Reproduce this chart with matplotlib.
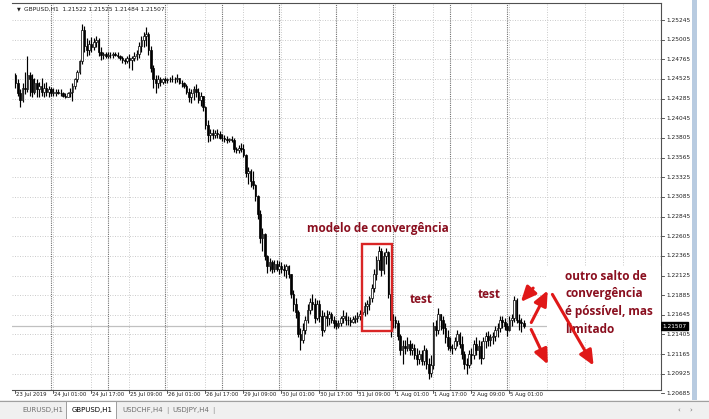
import numpy as np
import matplotlib
matplotlib.use("Agg")
import matplotlib.pyplot as plt
from matplotlib.patches import Rectangle, FancyArrowPatch
from matplotlib.transforms import blended_transform_factory

# --- DATA (GBPUSD H1) ---
opens = [
    1.2457, 1.2447, 1.2435, 1.2427, 1.2442, 1.2440, 1.2457, 1.2452, 1.2437, 1.2447,
    1.2440, 1.2444, 1.2437, 1.2442, 1.2437, 1.2440, 1.2436, 1.2436, 1.2437, 1.2436,
    1.2435, 1.2432, 1.2431, 1.2435, 1.2437, 1.2444, 1.2452, 1.2461, 1.2474, 1.2512,
    1.2493, 1.2488, 1.2495, 1.2491, 1.2498, 1.2500, 1.2486, 1.2482, 1.2483, 1.2481,
    1.2482, 1.2482, 1.2483, 1.2482, 1.2481, 1.2478, 1.2476, 1.2474, 1.2478, 1.2476,
    1.2478, 1.2481, 1.2483, 1.2493, 1.2500, 1.2505, 1.2508, 1.2488, 1.2466, 1.2452,
    1.2447, 1.2452, 1.2449, 1.2452, 1.2451, 1.2452, 1.2453, 1.2452, 1.2453, 1.2454,
    1.2448, 1.2447, 1.2444, 1.2437, 1.2430, 1.2435, 1.2440, 1.2437, 1.2427, 1.2432,
    1.2418, 1.2396, 1.2384, 1.2386, 1.2384, 1.2386, 1.2385, 1.2381, 1.2380, 1.2379,
    1.2378, 1.2379, 1.2378, 1.2367, 1.2366, 1.2368, 1.2367, 1.2360, 1.2338, 1.2340,
    1.2328, 1.2323, 1.2309, 1.2288, 1.2258, 1.2263, 1.2236, 1.2224, 1.2229, 1.2221,
    1.2226, 1.2221, 1.2224, 1.2221, 1.2219, 1.2224, 1.2214, 1.2190, 1.2178, 1.2168,
    1.2141, 1.2134, 1.2146, 1.2158, 1.2170, 1.2180, 1.2178, 1.2161, 1.2178, 1.2163,
    1.2146, 1.2163, 1.2161, 1.2166, 1.2158, 1.2154, 1.2151, 1.2155, 1.2161, 1.2163,
    1.2158, 1.2158, 1.2156, 1.2160, 1.2161, 1.2163, 1.2166, 1.2168, 1.2175, 1.2178,
    1.2185, 1.2197, 1.2214, 1.2231, 1.2243, 1.2219, 1.2236, 1.2241, 1.2190, 1.2158,
    1.2158, 1.2154, 1.2139, 1.2122, 1.2127, 1.2124, 1.2129, 1.2122, 1.2124, 1.2115,
    1.2110, 1.2117, 1.2108, 1.2122, 1.2105, 1.2093, 1.2103, 1.2151, 1.2146, 1.2166,
    1.2158, 1.2149, 1.2137, 1.2127, 1.2124, 1.2124, 1.2132, 1.2141, 1.2129, 1.2117,
    1.2105, 1.2103, 1.2117, 1.2115, 1.2129, 1.2122, 1.2127, 1.2112, 1.2132, 1.2139,
    1.2134, 1.2137, 1.2139, 1.2146, 1.2149, 1.2158, 1.2156, 1.2151, 1.2146, 1.2158,
    1.2161, 1.2183, 1.2158, 1.2156, 1.2154,
]
highs = [
    1.2460, 1.2452, 1.2440, 1.2447, 1.2461, 1.2480, 1.2461, 1.2458, 1.2454, 1.2452,
    1.2449, 1.2454, 1.2448, 1.2449, 1.2444, 1.2443, 1.2441, 1.2440, 1.2440, 1.2440,
    1.2437, 1.2435, 1.2437, 1.2442, 1.2447, 1.2454, 1.2464, 1.2476, 1.2520, 1.2517,
    1.2503, 1.2500, 1.2504, 1.2503, 1.2505, 1.2503, 1.2491, 1.2486, 1.2486, 1.2485,
    1.2486, 1.2485, 1.2486, 1.2486, 1.2482, 1.2481, 1.2478, 1.2481, 1.2483, 1.2481,
    1.2486, 1.2488, 1.2498, 1.2505, 1.2510, 1.2516, 1.2510, 1.2493, 1.2470, 1.2457,
    1.2457, 1.2455, 1.2454, 1.2455, 1.2454, 1.2455, 1.2457, 1.2455, 1.2458, 1.2454,
    1.2451, 1.2449, 1.2446, 1.2442, 1.2440, 1.2444, 1.2446, 1.2442, 1.2437, 1.2432,
    1.2420, 1.2403, 1.2391, 1.2391, 1.2390, 1.2391, 1.2389, 1.2385, 1.2384, 1.2383,
    1.2381, 1.2383, 1.2380, 1.2370, 1.2372, 1.2374, 1.2373, 1.2361, 1.2345, 1.2343,
    1.2340, 1.2324, 1.2311, 1.2292, 1.2270, 1.2265, 1.2238, 1.2234, 1.2232, 1.2231,
    1.2231, 1.2230, 1.2229, 1.2226, 1.2227, 1.2225, 1.2214, 1.2195, 1.2185, 1.2170,
    1.2149, 1.2154, 1.2163, 1.2178, 1.2185, 1.2190, 1.2185, 1.2183, 1.2183, 1.2170,
    1.2168, 1.2170, 1.2169, 1.2168, 1.2163, 1.2158, 1.2158, 1.2163, 1.2170, 1.2168,
    1.2163, 1.2162, 1.2163, 1.2164, 1.2168, 1.2170, 1.2172, 1.2180, 1.2183, 1.2188,
    1.2202, 1.2221, 1.2236, 1.2248, 1.2246, 1.2241, 1.2246, 1.2243, 1.2197, 1.2166,
    1.2163, 1.2158, 1.2141, 1.2134, 1.2134, 1.2137, 1.2134, 1.2130, 1.2129, 1.2124,
    1.2122, 1.2122, 1.2128, 1.2124, 1.2112, 1.2115, 1.2156, 1.2158, 1.2173, 1.2166,
    1.2163, 1.2154, 1.2146, 1.2137, 1.2129, 1.2137, 1.2146, 1.2144, 1.2139, 1.2120,
    1.2112, 1.2122, 1.2124, 1.2134, 1.2137, 1.2134, 1.2132, 1.2137, 1.2144, 1.2145,
    1.2141, 1.2144, 1.2151, 1.2154, 1.2163, 1.2163, 1.2161, 1.2154, 1.2163, 1.2166,
    1.2188, 1.2185, 1.2166, 1.2161, 1.2158,
]
lows = [
    1.2442, 1.2432, 1.2418, 1.2425, 1.2434, 1.2437, 1.2432, 1.2430, 1.2434, 1.2430,
    1.2431, 1.2432, 1.2430, 1.2432, 1.2431, 1.2432, 1.2432, 1.2432, 1.2434, 1.2432,
    1.2430, 1.2429, 1.2430, 1.2431, 1.2426, 1.2440, 1.2449, 1.2458, 1.2471, 1.2486,
    1.2481, 1.2482, 1.2486, 1.2488, 1.2491, 1.2481, 1.2476, 1.2477, 1.2478, 1.2478,
    1.2478, 1.2478, 1.2480, 1.2478, 1.2476, 1.2472, 1.2471, 1.2472, 1.2466, 1.2464,
    1.2474, 1.2476, 1.2478, 1.2486, 1.2491, 1.2493, 1.2482, 1.2461, 1.2442, 1.2436,
    1.2442, 1.2444, 1.2446, 1.2447, 1.2448, 1.2449, 1.2449, 1.2448, 1.2449, 1.2446,
    1.2443, 1.2442, 1.2434, 1.2425, 1.2423, 1.2427, 1.2430, 1.2423, 1.2420, 1.2413,
    1.2391, 1.2375, 1.2377, 1.2379, 1.2380, 1.2381, 1.2379, 1.2377, 1.2375, 1.2374,
    1.2375, 1.2375, 1.2363, 1.2362, 1.2362, 1.2363, 1.2357, 1.2333, 1.2324, 1.2321,
    1.2318, 1.2303, 1.2282, 1.2252, 1.2242, 1.2231, 1.2215, 1.2218, 1.2215, 1.2217,
    1.2218, 1.2214, 1.2215, 1.2212, 1.2209, 1.2209, 1.2185, 1.2169, 1.2161, 1.2137,
    1.2122, 1.2130, 1.2141, 1.2154, 1.2166, 1.2170, 1.2154, 1.2158, 1.2156, 1.2139,
    1.2144, 1.2151, 1.2152, 1.2154, 1.2149, 1.2147, 1.2149, 1.2151, 1.2154, 1.2152,
    1.2152, 1.2151, 1.2154, 1.2154, 1.2156, 1.2158, 1.2160, 1.2163, 1.2166, 1.2170,
    1.2180, 1.2192, 1.2207, 1.2219, 1.2212, 1.2214, 1.2226, 1.2185, 1.2137, 1.2149,
    1.2149, 1.2134, 1.2115, 1.2105, 1.2117, 1.2120, 1.2116, 1.2115, 1.2110, 1.2103,
    1.2105, 1.2103, 1.2103, 1.2098, 1.2086, 1.2088, 1.2098, 1.2139, 1.2141, 1.2146,
    1.2141, 1.2130, 1.2122, 1.2120, 1.2117, 1.2122, 1.2127, 1.2124, 1.2110, 1.2098,
    1.2092, 1.2100, 1.2105, 1.2110, 1.2115, 1.2110, 1.2105, 1.2110, 1.2124, 1.2127,
    1.2127, 1.2129, 1.2132, 1.2137, 1.2144, 1.2149, 1.2146, 1.2139, 1.2145, 1.2151,
    1.2156, 1.2154, 1.2146, 1.2144, 1.2149,
]
closes = [
    1.2447, 1.2435, 1.2427, 1.2442, 1.2440, 1.2457, 1.2452, 1.2437, 1.2447, 1.2440,
    1.2444, 1.2437, 1.2442, 1.2437, 1.2440, 1.2436, 1.2436, 1.2437, 1.2436, 1.2435,
    1.2432, 1.2431, 1.2435, 1.2437, 1.2444, 1.2452, 1.2461, 1.2474, 1.2512, 1.2493,
    1.2488, 1.2495, 1.2491, 1.2498, 1.2500, 1.2486, 1.2482, 1.2483, 1.2481, 1.2482,
    1.2482, 1.2483, 1.2482, 1.2481, 1.2478, 1.2476, 1.2474, 1.2478, 1.2476, 1.2478,
    1.2481, 1.2483, 1.2493, 1.2500, 1.2505, 1.2508, 1.2488, 1.2466, 1.2452, 1.2447,
    1.2452, 1.2449, 1.2452, 1.2451, 1.2452, 1.2453, 1.2452, 1.2453, 1.2454, 1.2448,
    1.2447, 1.2444, 1.2437, 1.2430, 1.2435, 1.2440, 1.2437, 1.2427, 1.2432, 1.2418,
    1.2396, 1.2384, 1.2386, 1.2384, 1.2386, 1.2385, 1.2381, 1.2380, 1.2379, 1.2378,
    1.2379, 1.2378, 1.2367, 1.2366, 1.2368, 1.2367, 1.2360, 1.2338, 1.2340, 1.2328,
    1.2323, 1.2309, 1.2288, 1.2258, 1.2263, 1.2236, 1.2224, 1.2229, 1.2221, 1.2226,
    1.2221, 1.2224, 1.2221, 1.2219, 1.2224, 1.2214, 1.2190, 1.2178, 1.2168, 1.2141,
    1.2134, 1.2146, 1.2158, 1.2170, 1.2180, 1.2178, 1.2161, 1.2178, 1.2163, 1.2146,
    1.2163, 1.2161, 1.2166, 1.2158, 1.2154, 1.2151, 1.2155, 1.2161, 1.2163, 1.2158,
    1.2158, 1.2156, 1.2160, 1.2161, 1.2163, 1.2166, 1.2168, 1.2175, 1.2178, 1.2185,
    1.2197, 1.2214, 1.2231, 1.2243, 1.2219, 1.2236, 1.2241, 1.2190, 1.2158, 1.2158,
    1.2154, 1.2139, 1.2122, 1.2127, 1.2124, 1.2129, 1.2122, 1.2124, 1.2115, 1.2110,
    1.2117, 1.2108, 1.2122, 1.2105, 1.2093, 1.2103, 1.2151, 1.2146, 1.2166, 1.2158,
    1.2149, 1.2137, 1.2127, 1.2124, 1.2124, 1.2132, 1.2141, 1.2129, 1.2117, 1.2105,
    1.2103, 1.2117, 1.2115, 1.2129, 1.2122, 1.2127, 1.2112, 1.2132, 1.2139, 1.2134,
    1.2137, 1.2139, 1.2146, 1.2149, 1.2158, 1.2156, 1.2151, 1.2146, 1.2158, 1.2161,
    1.2183, 1.2158, 1.2156, 1.2154, 1.21507,
]

time_labels = ["23 Jul 2019", "24 Jul 01:00", "24 Jul 17:00", "25 Jul 09:00",
               "26 Jul 01:00", "26 Jul 17:00", "29 Jul 09:00", "30 Jul 01:00",
               "30 Jul 17:00", "31 Jul 09:00", "1 Aug 01:00", "1 Aug 17:00",
               "2 Aug 09:00", "5 Aug 01:00"]
label_bars = [0, 16, 32, 48, 64, 80, 96, 112, 128, 144, 160, 176, 192, 208]
day_bars = [15, 39, 63, 87, 111, 135, 159, 183, 207]
price_ticks = [1.25245, 1.25005, 1.24765, 1.24525, 1.24285, 1.24045, 1.23805,
               1.23565, 1.23325, 1.23085, 1.22845, 1.22605, 1.22365, 1.22125,
               1.21885, 1.21645, 1.21405, 1.21165, 1.20925, 1.20685]
last_price = 1.21507
header = "GBPUSD,H1  1.21522 1.21525 1.21484 1.21507"
tabs = ["EURUSD,H1", "GBPUSD,H1", "USDCHF,H4", "USDJPY,H4"]

note_title = "modelo de convergência"
note_test = "test"
note_lines = ["outro salto de", "convergência", "é póssível, mas", "limitado"]

# --- FIGURE ---
W, H = 709, 419
TXT = "#8a0f1f"
ARR = "#e01818"


def fx(x):
    return x / W


def fy(y):
    return 1 - y / H


fig = plt.figure(figsize=(W / 100, H / 100), dpi=100)
fig.patch.set_facecolor("white")

ax = fig.add_axes([fx(12), fy(390), fx(661) - fx(12), fy(3) - fy(390)])
ax.set_xlim(-1.47, 271.8)
ax.set_ylim(1.20727, 1.25453)
ax.set_xticks([])
ax.set_yticks([])
ax.spines["left"].set_visible(False)
for side in ["top", "right", "bottom"]:
    ax.spines[side].set_color("#505050")
    ax.spines[side].set_linewidth(0.8)

# grid
for p in price_ticks:
    ax.axhline(p, color="#c4c4c4", lw=0.6, dashes=(1.2, 1.8), zorder=0)
for b in range(16, 272, 16):
    ax.axvline(b, color="#c4c4c4", lw=0.6, dashes=(1.2, 1.8), zorder=0)
for b in day_bars:
    ax.axvline(b, color="#707070", lw=0.8, dashes=(1.0, 1.0), zorder=0)

# bid line
ax.axhline(last_price, color="#c0c0c0", lw=0.9, zorder=1)

# candles
x = np.arange(len(closes))
o = np.array(opens)
c = np.array(closes)
ax.vlines(x, lows, highs, color="black", lw=0.85, zorder=2)
bottoms = np.minimum(o, c)
heights = np.maximum(np.abs(c - o), 0.00003)
fills = ["white" if cc >= oo else "black" for oo, cc in zip(o, c)]
ax.bar(x, heights, bottom=bottoms, width=0.72, color=fills,
       edgecolor="black", linewidth=0.5, zorder=3)

# price scale
trans_y = blended_transform_factory(ax.transAxes, ax.transData)
for p in price_ticks:
    ax.plot([1, 1 + 3 / 649], [p, p], transform=trans_y, clip_on=False,
            color="#404040", lw=0.6)
    ax.text(1 + 5 / 649, p, f"{p:.5f}", transform=trans_y, clip_on=False,
            fontsize=4.2, va="center", ha="left", color="#202020")
ax.text(1 + 1.5 / 649, last_price, f"{last_price:.5f}", transform=trans_y,
        clip_on=False, fontsize=4.2, va="center", ha="left", color="white",
        bbox=dict(boxstyle="square,pad=0.25", facecolor="black",
                  edgecolor="black"), zorder=5)

# time scale
trans_x = blended_transform_factory(ax.transData, ax.transAxes)
for b, lab in zip(label_bars, time_labels):
    ax.plot([b, b], [0, -2.5 / 387], transform=trans_x, clip_on=False,
            color="#404040", lw=0.6)
    ax.text(b + 0.3, -4.5 / 387, lab, transform=trans_x, clip_on=False,
            fontsize=3.9, va="center", ha="left", color="#202020")

# header
fig.text(fx(17), fy(9), "▼", fontsize=3.5, va="center", ha="left", color="#202020")
fig.text(fx(24), fy(9), header, fontsize=4.2, va="center", ha="left", color="#202020")

# right strip
fig.patches.append(Rectangle((fx(692), fy(400)), fx(5), fy(0) - fy(400),
                             transform=fig.transFigure, facecolor="#b8cbe0",
                             edgecolor="none"))

# tab bar
fig.patches.append(Rectangle((0, 0), 1, fy(400), transform=fig.transFigure,
                             facecolor="#f0f0f0", edgecolor="none"))
fig.add_artist(plt.Line2D([0, 1], [fy(400.5), fy(400.5)], transform=fig.transFigure,
                          color="#a0a0a0", lw=0.8))
fig.patches.append(Rectangle((fx(66), 0), fx(50), fy(401), transform=fig.transFigure,
                             facecolor="white", edgecolor="#909090", lw=0.6))
tab_x = [22, 72, 122, 172]
for tx, name in zip(tab_x, tabs):
    active = name == "GBPUSD,H1"
    fig.text(fx(tx), fy(410), name, fontsize=5, va="center", ha="left",
             color="black" if active else "#707070")
for sx in [166, 212]:
    fig.text(fx(sx), fy(410), "|", fontsize=5, va="center", ha="left", color="#909090")
fig.text(fx(678), fy(410), "‹", fontsize=5, va="center", ha="left", color="#707070")
fig.text(fx(689), fy(410), "›", fontsize=5, va="center", ha="left", color="#707070")

# annotations
font = dict(family=["Open Sans", "DejaVu Sans"], fontweight="bold", color=TXT)
fig.text(fx(307), fy(228), note_title, fontsize=8.5, va="center", ha="left", **font)
fig.text(fx(410), fy(299), note_test, fontsize=8.5, va="center", ha="left", **font)
fig.text(fx(478), fy(294), note_test, fontsize=8.5, va="center", ha="left", **font)
fig.patches.append(Rectangle((fx(547), fy(340)), fx(114), fy(266) - fy(340),
                             transform=fig.transFigure, facecolor="white",
                             edgecolor="none", zorder=4))
for yy, line in zip([276, 293.5, 311.5, 329], note_lines):
    fig.text(fx(565), fy(yy), line, fontsize=8.5, va="center", ha="left",
             zorder=6, **font)

fig.patches.append(Rectangle((fx(362), fy(331)), fx(30), fy(244) - fy(331),
                             transform=fig.transFigure, facecolor="none",
                             edgecolor="#d92626", lw=1.7, zorder=6))

arrows = [((535, 286), (519, 304)), ((530, 325), (549, 288)),
          ((530, 327), (549, 367)), ((551, 292), (595, 368))]
for (x0, y0), (x1, y1) in arrows:
    fig.patches.append(FancyArrowPatch((fx(x0), fy(y0)), (fx(x1), fy(y1)),
                                       transform=fig.transFigure,
                                       arrowstyle="-|>,head_length=0.9,head_width=0.4",
                                       mutation_scale=10, lw=2.2, color=ARR,
                                       zorder=7))

fig.savefig("out.png", dpi=100)
